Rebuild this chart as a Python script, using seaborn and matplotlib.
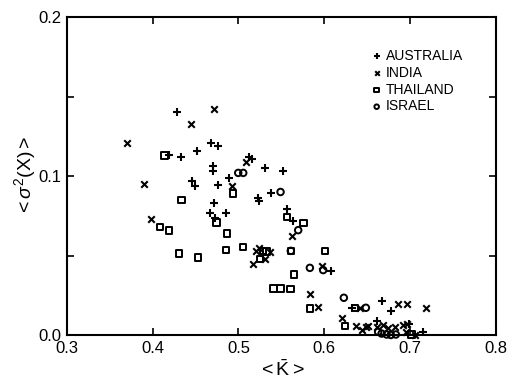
import matplotlib
matplotlib.use("Agg")
import matplotlib.pyplot as plt
import seaborn as sns
import pandas as pd

# ---- data ----
aus_k = [0.428, 0.419, 0.433, 0.446, 0.449, 0.468, 0.4756, 0.452, 0.5125, 0.516,
         0.5308, 0.552, 0.4698, 0.4698, 0.489, 0.4764, 0.4717, 0.4667, 0.4853, 0.4725,
         0.523, 0.524, 0.5374, 0.556, 0.563, 0.6077, 0.6318, 0.6675, 0.6783, 0.661,
         0.6986, 0.7145]
aus_s = [0.140, 0.113, 0.112, 0.097, 0.094, 0.1205, 0.119, 0.116, 0.112, 0.1105,
         0.105, 0.1033, 0.1065, 0.1035, 0.0985, 0.0943, 0.0828, 0.077, 0.0765, 0.0734,
         0.086, 0.0845, 0.0895, 0.079, 0.0719, 0.0404, 0.0172, 0.0214, 0.0151, 0.009,
         0.0069, 0.0021]

ind_k = [0.445, 0.370, 0.390, 0.472, 0.5086, 0.4926, 0.3975, 0.5203, 0.5238, 0.537,
         0.5305, 0.5165, 0.5618, 0.5975, 0.5832, 0.593, 0.6415, 0.686, 0.6959, 0.718,
         0.6202, 0.6365, 0.6442, 0.6485, 0.6512, 0.661, 0.6686, 0.6745, 0.6823, 0.692,
         0.6959, 0.6947, 0.7056]
ind_s = [0.1325, 0.121, 0.095, 0.142, 0.109, 0.094, 0.073, 0.053, 0.0545, 0.0524,
         0.0477, 0.0445, 0.0623, 0.0436, 0.0258, 0.0174, 0.0172, 0.0193, 0.0193, 0.0172,
         0.0109, 0.0058, 0.0031, 0.0052, 0.0058, 0.0052, 0.0063, 0.0046, 0.0052, 0.0063,
         0.0069, 0.0021, 0.0003]

tha_k = [0.414, 0.4938, 0.4336, 0.4745, 0.4084, 0.4189, 0.4868, 0.4305, 0.453, 0.4857,
         0.5051, 0.5288, 0.5325, 0.5252, 0.541, 0.5488, 0.5606, 0.5568, 0.5755, 0.6007,
         0.561, 0.5646, 0.5832, 0.6356, 0.624, 0.7016]
tha_s = [0.113, 0.089, 0.085, 0.0709, 0.068, 0.0658, 0.064, 0.0514, 0.0489, 0.0535,
         0.0555, 0.053, 0.0525, 0.0478, 0.0294, 0.0294, 0.029, 0.0744, 0.0706, 0.053,
         0.053, 0.0382, 0.0168, 0.0172, 0.0057, 0.0003]

isr_k = [0.4997, 0.5055, 0.549, 0.5696, 0.561, 0.5832, 0.5987, 0.6228, 0.6485,
         0.6628, 0.6668, 0.6727, 0.6776, 0.6834]
isr_s = [0.102, 0.102, 0.090, 0.066, 0.053, 0.0423, 0.0409, 0.0235, 0.0172,
         0.0021, 0.001, 0.0004, 0.0001, 0.0004]

countries = ["AUSTRALIA", "INDIA", "THAILAND", "ISRAEL"]
x_ticks = [0.3, 0.4, 0.5, 0.6, 0.7, 0.8]
x_ticklabels = ["0.3", "0.4", "0.5", "0.6", "0.7", "0.8"]
y_ticks = [0.0, 0.1, 0.2]
y_ticklabels = ["0.0", "0.1", "0.2"]

sns.set_theme(style="ticks")
plt.rcParams["font.family"] = ["Liberation Sans", "DejaVu Sans"]
plt.rcParams["mathtext.fontset"] = "custom"
plt.rcParams["mathtext.rm"] = "Liberation Sans"
plt.rcParams["mathtext.it"] = "Liberation Sans:italic"

fig = plt.figure(figsize=(5.07, 3.87), dpi=100)
ax = fig.add_axes([0.132, 0.134, 0.846, 0.822])

frames = {
    "AUSTRALIA": pd.DataFrame({"k": aus_k, "s": aus_s}),
    "INDIA": pd.DataFrame({"k": ind_k, "s": ind_s}),
    "THAILAND": pd.DataFrame({"k": tha_k, "s": tha_s}),
    "ISRAEL": pd.DataFrame({"k": isr_k, "s": isr_s}),
}
styles = {
    "AUSTRALIA": dict(marker="+", s=38, linewidth=1.5, color="black"),
    "INDIA": dict(marker="x", s=22, linewidth=1.5, color="black"),
    "THAILAND": dict(marker="s", s=22, linewidth=1.4, facecolor="none", edgecolor="black"),
    "ISRAEL": dict(marker="o", s=22, linewidth=1.4, facecolor="none", edgecolor="black"),
}
for c in countries:
    sns.scatterplot(data=frames[c], x="k", y="s", ax=ax, label=c, clip_on=False,
                    **styles[c])

ax.set_xlim(0.3, 0.8)
ax.set_ylim(0.0, 0.2)
ax.set_xticks(x_ticks)
ax.set_xticklabels(x_ticklabels)
ax.set_yticks(y_ticks)
ax.set_yticklabels(y_ticklabels)
ax.set_yticks([0.05, 0.15], minor=True)
ax.tick_params(which="both", direction="in", top=True, right=True, length=5,
               width=1.2, color="black", labelsize=12, labelcolor="black", pad=4)
for sp in ax.spines.values():
    sp.set_color("black")
    sp.set_linewidth(1.5)

ax.set_xlabel(r"$<\bar{\mathrm{K}}>$", fontsize=14, color="black", labelpad=3)
ax.set_ylabel(r"$<\sigma^2(\mathrm{X})>$", fontsize=14, color="black", labelpad=0)

leg = ax.legend(loc="upper right", bbox_to_anchor=(0.946, 0.93), frameon=False,
                fontsize=10, handlelength=0.6, handletextpad=0.35, labelspacing=0.2,
                borderpad=0.2, markerscale=0.7)
for t in leg.get_texts():
    t.set_color("black")

fig.savefig("out.png", dpi=100, facecolor="white")
